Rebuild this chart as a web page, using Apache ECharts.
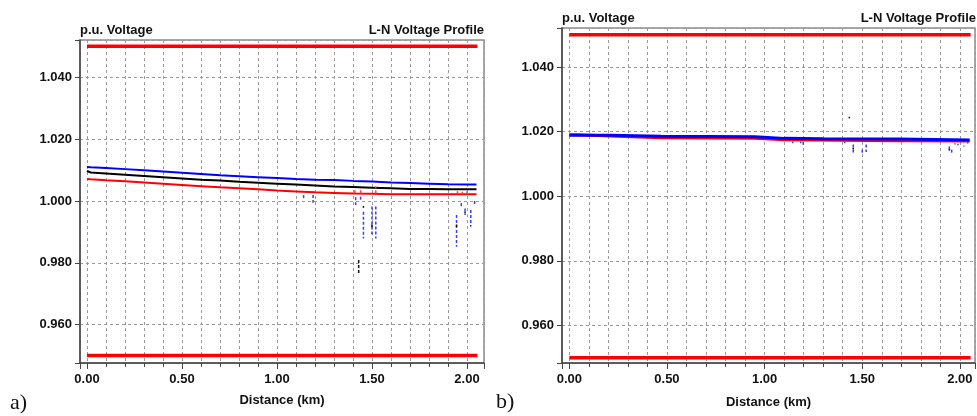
<!DOCTYPE html>
<html>
<head>
<meta charset="utf-8">
<script src="https://cdn.jsdelivr.net/npm/echarts@6/dist/echarts.min.js"></script>
<style>
  html, body { margin: 0; padding: 0; background: #fff; }
  #chart { width: 977px; height: 416px; }
</style>
</head>
<body>
<div id="chart"></div>
<script>
// ---------- Panel a) : L-N voltage profile along the feeder ----------
const distA      = [0, 0.02, 0.1, 0.2, 0.3, 0.4, 0.5, 0.6, 0.7, 0.8, 0.9, 1.0, 1.1, 1.2, 1.3, 1.4, 1.5, 1.6, 1.7, 1.8, 1.9, 2.0, 2.05];
const phaseBlueA  = [1.0110, 1.0109, 1.0107, 1.0103, 1.0099, 1.0095, 1.0091, 1.0087, 1.0083, 1.0080, 1.0077, 1.0074, 1.0071, 1.0069, 1.0068, 1.0065, 1.0063, 1.0060, 1.0058, 1.0056, 1.0054, 1.0053, 1.0053];
const phaseBlackA = [1.0097, 1.0092, 1.0089, 1.0085, 1.0081, 1.0077, 1.0073, 1.0069, 1.0066, 1.0062, 1.0059, 1.0056, 1.0053, 1.0050, 1.0047, 1.0045, 1.0043, 1.0041, 1.0039, 1.0039, 1.0038, 1.0038, 1.0038];
const phaseRedA   = [1.0071, 1.0070, 1.0067, 1.0064, 1.0060, 1.0056, 1.0052, 1.0048, 1.0044, 1.0041, 1.0038, 1.0034, 1.0031, 1.0028, 1.0026, 1.0024, 1.0023, 1.0022, 1.0022, 1.0022, 1.0022, 1.0022, 1.0022];

// Secondary (lateral) drops: [distance km, upper p.u., lower p.u.]
const lateralBlueA = [
  [1.14, 1.0019, 1.0004], [1.19, 1.0019, 0.9994], [1.414, 1.0012, 0.9987], [1.44, 1.0014, 1.0003],
  [1.455, 0.9965, 0.9879], [1.50, 0.9982, 0.9890], [1.52, 0.9982, 0.9879], [1.945, 0.9955, 0.9852],
  [1.97, 0.9993, 0.9982], [1.99, 0.9976, 0.9955], [2.02, 0.9971, 0.9917], [2.04, 1.0000, 0.9989]
];
const lateralBlackA = [
  [1.43, 0.9809, 0.9766], [1.455, 0.9984, 0.9978], [1.50, 0.9924, 0.9916],
  [1.945, 0.9924, 0.9916], [1.99, 0.9966, 0.9960]
];
const lateralRedA = [
  [1.41, 1.0025, 1.0040], [1.44, 1.0025, 1.0042], [1.52, 1.0024, 1.0048],
  [1.95, 1.0022, 1.0033], [1.975, 1.0022, 1.0030], [2.0, 1.0022, 1.0032]
];

// ---------- Panel b) : L-N voltage profile along the feeder ----------
const distBlueB  = [0, 0.21, 0.21, 0.47, 0.47, 0.95, 0.95, 1.10, 1.10, 1.30, 1.30, 1.68, 1.68, 2.05];
const phaseBlueB = [1.0189, 1.0189, 1.01855, 1.01855, 1.0184, 1.0184, 1.0179, 1.0179, 1.0178, 1.0178, 1.0177, 1.0177, 1.0174, 1.0174];
const distRedB   = [0, 0.04, 0.04, 0.21, 0.21, 0.47, 0.47, 0.95, 0.95, 1.10, 1.10, 1.68, 1.68, 2.05];
const phaseRedB  = [1.0190, 1.0190, 1.0186, 1.0186, 1.0181, 1.0181, 1.0179, 1.0179, 1.0175, 1.0175, 1.0172, 1.0172, 1.0171, 1.0171];

const lateralBlueB = [
  [1.144, 1.0169, 1.0164], [1.185, 1.0169, 1.0164], [1.198, 1.0168, 1.0159], [1.41, 1.0169, 1.0164],
  [1.454, 1.0160, 1.0134], [1.50, 1.0144, 1.0134], [1.52, 1.0160, 1.0137], [1.946, 1.0154, 1.0138],
  [1.958, 1.0144, 1.0131], [1.975, 1.0164, 1.0160], [1.99, 1.0162, 1.0158], [2.02, 1.0157, 1.0154],
  [2.04, 1.0167, 1.0163]
];
const lateralBlackB = [[1.434, 1.0246, 1.0241], [1.454, 1.0150, 1.0145], [1.946, 1.0146, 1.0141]];

// ANSI voltage limits, drawn over the feeder length
const limitSpan = [0, 2.055];
const limitHigh = 1.05;
const limitLow  = 0.95;

// Axis tick values and labels
const xTickStep = 0.5;
const yTickStep = 0.02;
const titleLeft  = 'p.u. Voltage';
const titleRight = 'L-N Voltage Profile';
const xAxisName  = 'Distance (km)';
const panelTags  = ['a)', 'b)'];

// ---------- helpers ----------
const FONT = '"Liberation Sans", Arial, sans-serif';
const zip = (xs, ys) => xs.map((x, i) => [x, ys[i]]);
const onStep = (v, step) => Math.abs(v / step - Math.round(v / step)) < 1e-6;
const dashed = { color: '#9a9a9a', width: 1, type: [3, 3] };

function xAxisCfg(gi, min, max, nameGap) {
  return {
    type: 'value', gridIndex: gi, min, max,
    minInterval: xTickStep, maxInterval: xTickStep,
    name: xAxisName, nameLocation: 'middle', nameGap,
    nameTextStyle: { fontFamily: FONT, fontWeight: 'bold', fontSize: 13, color: '#111' },
    axisLine: { show: true, onZero: false, lineStyle: { color: '#444', width: 1.5 } },
    axisTick: { show: true, inside: false, length: 6, lineStyle: { color: '#444', width: 1 } },
    minorTick: { show: true, splitNumber: 5, length: 4, lineStyle: { color: '#444', width: 1 } },
    axisLabel: {
      margin: 10, fontFamily: FONT, fontWeight: 'bold', fontSize: 13, color: '#111',
      formatter: v => onStep(v, xTickStep) ? v.toFixed(2) : ''
    },
    splitLine: { show: true, lineStyle: dashed },
    minorSplitLine: { show: true, lineStyle: dashed }
  };
}

function yAxisCfg(gi, min, max) {
  return {
    type: 'value', gridIndex: gi, min, max,
    minInterval: yTickStep, maxInterval: yTickStep,
    axisLine: { show: true, onZero: false, lineStyle: { color: '#444', width: 1.5 } },
    axisTick: { show: true, inside: false, length: 5, lineStyle: { color: '#444', width: 1 } },
    axisLabel: {
      margin: 8, fontFamily: FONT, fontWeight: 'bold', fontSize: 13, color: '#111',
      formatter: v => onStep(v, yTickStep) ? v.toFixed(3) : ''
    },
    splitLine: { show: true, lineStyle: dashed }
  };
}

function lineSeries(gi, data, color, width, z) {
  return {
    type: 'line', xAxisIndex: gi, yAxisIndex: gi, data,
    showSymbol: false, symbol: 'none', silent: true, z,
    lineStyle: { color, width, cap: 'butt' }
  };
}

function lateralSeries(gi, rows, color) {
  return {
    type: 'custom', xAxisIndex: gi, yAxisIndex: gi, data: rows,
    encode: { x: 0, y: [1, 2] }, silent: true, z: 4,
    renderItem: (params, api) => {
      const a = api.coord([api.value(0), api.value(1)]);
      const b = api.coord([api.value(0), api.value(2)]);
      return {
        type: 'line',
        shape: { x1: a[0], y1: a[1], x2: b[0], y2: b[1] },
        style: { stroke: color, lineWidth: 1.5, lineDash: [3, 2] }
      };
    }
  };
}

const limitSeries = gi => [
  lineSeries(gi, limitSpan.map(d => [d, limitHigh]), '#ff0000', 3.5, 2),
  lineSeries(gi, limitSpan.map(d => [d, limitLow]), '#ff0000', 3.5, 2)
];

const titleStyle = { fontFamily: FONT, fontWeight: 'bold', fontSize: 13, color: '#111' };
const tagStyle = { fontFamily: '"Liberation Serif", "Times New Roman", serif', fontWeight: 'normal', fontSize: 22, color: '#111' };

const chart = echarts.init(document.getElementById('chart'), null, { renderer: 'canvas' });
chart.setOption({
  animation: false,
  backgroundColor: '#fff',
  title: [
    { text: titleLeft,  left: 80,  top: 24, padding: 0, textStyle: titleStyle },
    { text: titleRight, right: 493, top: 24, padding: 0, textStyle: titleStyle },
    { text: titleLeft,  left: 562, top: 12, padding: 0, textStyle: titleStyle },
    { text: titleRight, right: 1,  top: 12, padding: 0, textStyle: titleStyle },
    { text: panelTags[0], left: 10,  top: 392, padding: 0, textStyle: tagStyle },
    { text: panelTags[1], left: 496, top: 391, padding: 0, textStyle: tagStyle }
  ],
  grid: [
    { left: 80,  top: 40, width: 404, height: 323, show: true, borderColor: '#8c8c8c', borderWidth: 1.5, backgroundColor: 'transparent', containLabel: false, outerBoundsMode: 'none' },
    { left: 562, top: 28, width: 413, height: 335, show: true, borderColor: '#8c8c8c', borderWidth: 1.5, backgroundColor: 'transparent', containLabel: false, outerBoundsMode: 'none' }
  ],
  xAxis: [xAxisCfg(0, -0.0368, 2.0895, 31), xAxisCfg(1, -0.0374, 2.0773, 33)],
  yAxis: [yAxisCfg(0, 0.94760, 1.05206), yAxisCfg(1, 0.94836, 1.05207)],
  series: [
    ...limitSeries(0),
    lineSeries(0, zip(distA, phaseRedA), '#ff0000', 2, 3),
    lineSeries(0, zip(distA, phaseBlackA), '#000000', 2, 3),
    lineSeries(0, zip(distA, phaseBlueA), '#0000ff', 2, 3),
    lateralSeries(0, lateralBlueA, '#3a3aff'),
    lateralSeries(0, lateralBlackA, '#111111'),
    lateralSeries(0, lateralRedA, '#ff4040'),

    ...limitSeries(1),
    lineSeries(1, zip(distRedB, phaseRedB), '#ff0000', 3, 3),
    lineSeries(1, zip(distBlueB, phaseBlueB), '#0000ff', 3, 3),
    lateralSeries(1, lateralBlueB, '#3a3aff'),
    lateralSeries(1, lateralBlackB, '#111111')
  ]
});
</script>
</body>
</html>
